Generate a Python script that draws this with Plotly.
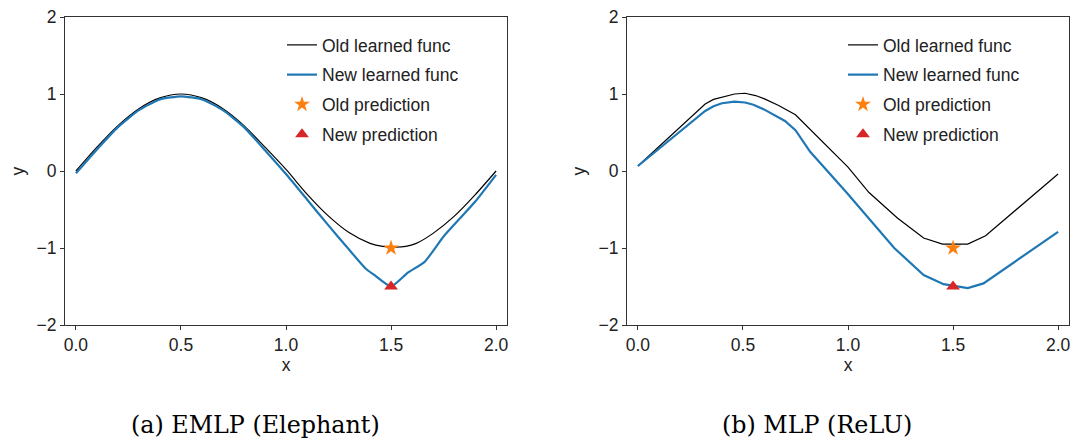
import plotly.graph_objects as go

# Left panel: EMLP (Elephant)
emlp_old_x = [0.0, 0.1, 0.2, 0.3, 0.4, 0.5, 0.6, 0.7, 0.8, 0.9, 1.0, 1.1, 1.2, 1.3,
              1.4, 1.46, 1.52, 1.57, 1.62, 1.7, 1.8, 1.9, 2.0]
emlp_old_y = [0.0, 0.31, 0.59, 0.81, 0.95, 1.0, 0.95, 0.81, 0.59, 0.31, 0.02, -0.30,
              -0.58, -0.80, -0.94, -0.98, -0.99, -0.98, -0.94, -0.81, -0.59, -0.31, 0.0]
emlp_new_x = [0.0, 0.1, 0.2, 0.3, 0.4, 0.5, 0.6, 0.7, 0.8, 0.9, 1.0, 1.1, 1.2, 1.3,
              1.38, 1.42, 1.5, 1.58, 1.66, 1.75, 1.83, 1.9, 2.0]
emlp_new_y = [-0.03, 0.28, 0.57, 0.79, 0.93, 0.97, 0.93, 0.79, 0.57, 0.27, -0.04, -0.37,
              -0.70, -1.02, -1.27, -1.35, -1.50, -1.32, -1.18, -0.85, -0.61, -0.40, -0.05]

# Right panel: MLP (ReLU)
mlp_old_x = [0.0, 0.32, 0.36, 0.41, 0.46, 0.51, 0.56, 0.60, 0.67, 0.75, 0.92, 1.0, 1.1,
             1.235, 1.36, 1.45, 1.57, 1.655, 2.0]
mlp_old_y = [0.065, 0.87, 0.93, 0.97, 1.0, 1.01, 0.98, 0.94, 0.85, 0.73, 0.27, 0.05, -0.28,
             -0.61, -0.87, -0.95, -0.95, -0.84, -0.04]
mlp_new_x = [0.0, 0.32, 0.36, 0.40, 0.46, 0.51, 0.55, 0.60, 0.70, 0.75, 0.82, 0.99, 1.22,
             1.36, 1.455, 1.57, 1.645, 2.0]
mlp_new_y = [0.065, 0.78, 0.84, 0.88, 0.90, 0.89, 0.86, 0.80, 0.65, 0.53, 0.25, -0.27,
             -1.0, -1.35, -1.47, -1.52, -1.46, -0.79]

# query point predictions
pred_x = [1.5]
old_pred_y = [-1.0]
new_pred_y = [-1.5]

captions = ["(a) EMLP (Elephant)", "(b) MLP (ReLU)"]

BLACK = "#000000"
BLUE = "#1f77b4"
ORANGE = "#ff7f0e"
RED = "#d62728"
FONT = "Liberation Sans, Arial, sans-serif"

# the page body adds an 8px margin, so the figure is a bit smaller and shifted
PAD = 8
W = 1084 - 2 * PAD
H = 448 - 2 * PAD


def fx(p):
    return (p - PAD) / W


def fy(p):
    return 1 - (p - PAD) / H


fig = go.Figure()

panels = [
    ("x", "y", "legend", "spline", emlp_old_x, emlp_old_y, emlp_new_x, emlp_new_y),
    ("x2", "y2", "legend2", "linear", mlp_old_x, mlp_old_y, mlp_new_x, mlp_new_y),
]

for xa, ya, leg, shape, ox, oy, nx, ny in panels:
    fig.add_trace(go.Scatter(x=ox, y=oy, mode="lines", name="Old learned func",
                             line=dict(color=BLACK, width=1.2, shape=shape, smoothing=0.8),
                             xaxis=xa, yaxis=ya, legend=leg, legendgroup=leg + "a"))
    fig.add_trace(go.Scatter(x=nx, y=ny, mode="lines", name="New learned func",
                             line=dict(color=BLUE, width=2.2, shape=shape, smoothing=0.5),
                             xaxis=xa, yaxis=ya, legend=leg, legendgroup=leg + "b"))
    fig.add_trace(go.Scatter(x=pred_x, y=old_pred_y, mode="markers", name="Old prediction",
                             marker=dict(symbol="star", size=12, color=ORANGE),
                             xaxis=xa, yaxis=ya, legend=leg, legendgroup=leg + "c"))
    fig.add_trace(go.Scatter(x=pred_x, y=new_pred_y, mode="markers", name="New prediction",
                             marker=dict(symbol="triangle-up", size=12, color=RED),
                             xaxis=xa, yaxis=ya, legend=leg, legendgroup=leg + "d"))

axis_common = dict(
    showgrid=False, zeroline=False, showline=True, mirror=True, automargin=False,
    linecolor="#333333", linewidth=1.2, ticks="outside", ticklen=4,
    tickwidth=1, tickcolor="#333333", tickfont=dict(size=17.5, color="#222222"),
    ticklabeloverflow="allow",
)
xcommon = dict(axis_common, range=[-0.052, 2.052], tickmode="array",
               tickvals=[0, 0.5, 1.0, 1.5, 2.0], tickformat=".1f",
               title=dict(text="x", font=dict(size=17.5, color="#222222"), standoff=4))
ycommon = dict(axis_common, range=[-2, 2], tickmode="array",
               tickvals=[-2, -1, 0, 1, 2],
               title=dict(text="y", font=dict(size=17.5, color="#222222"), standoff=8))

legend_common = dict(
    font=dict(size=17.5, color="#222222", family=FONT),
    bgcolor="rgba(0,0,0,0)", traceorder="grouped", tracegroupgap=4,
    xanchor="left", yanchor="top",
)

fig.update_layout(
    width=W, height=H,
    margin=dict(l=0, r=0, t=0, b=0),
    paper_bgcolor="white", plot_bgcolor="white",
    font=dict(family=FONT, color="#222222"),
    xaxis=dict(xcommon, domain=[fx(65), fx(507)], anchor="y"),
    yaxis=dict(ycommon, domain=[fy(325), fy(17)], anchor="x"),
    xaxis2=dict(xcommon, domain=[fx(627), fx(1069)], anchor="y2"),
    yaxis2=dict(ycommon, domain=[fy(325), fy(17)], anchor="x2"),
    legend=dict(legend_common, x=fx(282), y=fy(27)),
    legend2=dict(legend_common, x=fx(843), y=fy(27)),
)

for cx, text in zip([255, 817], captions):
    fig.add_annotation(x=fx(cx), y=fy(425), xref="paper", yref="paper",
                       text=text, showarrow=False, xanchor="center", yanchor="middle",
                       font=dict(family="DejaVu Serif", size=23.8, color="#000000"))

fig.write_html("out.html")
